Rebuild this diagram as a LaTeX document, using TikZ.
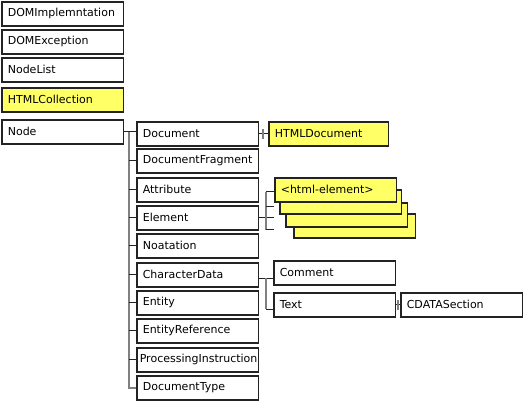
\documentclass[tikz,border=0pt]{standalone}
\usepackage{fontspec}
\setmainfont{DejaVu Sans}
\usetikzlibrary{calc}
\definecolor{hy}{RGB}{255,255,102}
\definecolor{bord}{RGB}{35,35,35}
\definecolor{trk}{RGB}{128,128,128}
\begin{document}
\begin{tikzpicture}[x=1pt,y=-1pt,
  box/.style={draw=bord, line width=1.6pt, fill=white, rectangle, anchor=north west,
    minimum height=24pt, inner xsep=6pt, inner ysep=0pt, text width=#1, align=left,
    font=\fontsize{11}{13}\selectfont},
  box/.default=109.5pt,
  ybox/.style={box=#1, fill=hy},
  ybox/.default=109.5pt,
  tick/.style={draw=bord, line width=1.1pt},
  trunk/.style={draw=trk, line width=2.2pt}]
\useasboundingbox (0,0) rectangle (524,401);
% left column
\node[box] (dom) at (1,1) {DOMImplemntation};
\node[box] (exc) at (1,29) {DOMException};
\node[box] (nlist) at (1,57) {NodeList};
\node[ybox] (hcoll) at (1,87) {HTMLCollection};
\node[box] (node) at (1,119) {Node};
% second column
\node[box] (doc) at (136,121) {Document};
\node[box] (docfrag) at (136,148) {DocumentFragment};
\node[box] (attr) at (136,177) {Attribute};
\node[box] (elem) at (136,205) {Element};
\node[box] (noat) at (136,233) {Noatation};
\node[box] (chard) at (136,262) {CharacterData};
\node[box] (entity) at (136,290) {Entity};
\node[box] (entref) at (136,318) {EntityReference};
\node[box=115.5pt, inner xsep=3pt] (procinst) at (136,347) {ProcessingInstruction};
\node[box] (doctype) at (136,375) {DocumentType};
% third column
\node[ybox=107.5pt] (htmldoc) at (268,121) {HTMLDocument};
\node[ybox] (he4) at (293,213) {};
\node[ybox] (he3) at (285,202) {};
\node[ybox] (he2) at (279,189) {};
\node[ybox] (he1) at (274,177) {<html-element>};
\node[box] (comment) at (273,260) {Comment};
\node[box] (txt) at (273,292) {Text};
\node[box] (cdata) at (400,292) {CDATASection};
% Node tree
\coordinate (tr) at ($(node.east)+(5,0)$);
\draw[tick] (node.east) -- (doc.west |- node.east);
\draw[trunk] (tr) |- (doctype.west);
\foreach \n in {docfrag,attr,elem,noat,chard,entity,entref,procinst}
  \draw[tick] (tr |- \n.west) -- (\n.west);
% Document -> HTMLDocument
\draw[tick] (doc.east) -- (htmldoc.west |- doc.east);
\draw[trunk] ($(doc.east)!0.45!(htmldoc.west |- doc.east)$) +(0,-5) -- +(0,5);
% Element -> html elements
\coordinate (et) at ($(elem.east)+(7,0)$);
\draw[tick] (elem.east) -- (he1.west |- elem.east);
\draw[trunk] ($(et)+(0,-26)$) -- ($(et)+(0,12)$);
\foreach \d in {-26,-11,12}{
  \coordinate (q) at ($(et)+(0,\d)$);
  \draw[tick] (q) -- (q -| he1.west);
}
% CharacterData -> Comment, Text
\coordinate (ct) at ($(chard.east)+(7,3.5)$);
\coordinate (cb) at ($(ct)+(0,31)$);
\draw[tick] ($(chard.east)+(0,3.5)$) -- (ct -| comment.west);
\draw[trunk] (ct) -- (cb);
\draw[tick] (cb) -- (cb -| txt.west);
% Text -> CDATASection
\draw[tick] (txt.east) -- (cdata.west |- txt.east);
\draw[trunk] ($(txt.east)!0.5!(cdata.west |- txt.east)$) +(0,-5) -- +(0,5);
\end{tikzpicture}
\end{document}
